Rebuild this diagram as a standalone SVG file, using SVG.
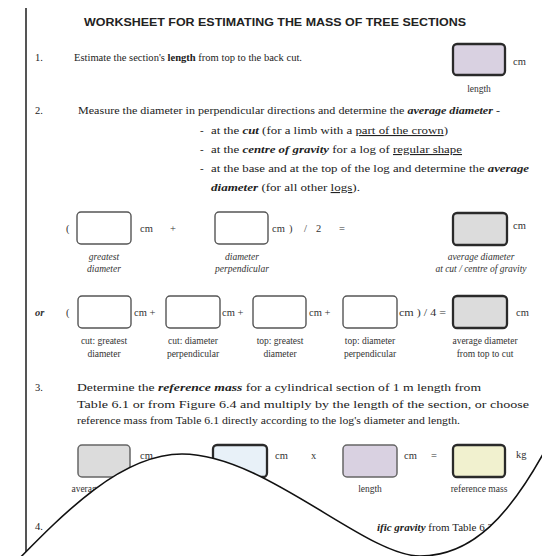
<svg xmlns="http://www.w3.org/2000/svg" width="542" height="556" viewBox="0 0 542 556">
<style>
.t{font-family:"Liberation Serif","Times New Roman",serif;fill:#222;}
.b{font-weight:bold;}
.bi{font-weight:bold;font-style:italic;}
.i{font-style:italic;}
.u{text-decoration:underline;}
.lab{font-family:"Liberation Serif","Times New Roman",serif;fill:#333;font-size:9.5px;text-anchor:middle;}
.op{font-family:"Liberation Serif","Times New Roman",serif;fill:#333;font-size:10.5px;}
.bw{fill:#fff;stroke:#555;stroke-width:1.4;}
.bg{fill:#dcdcdc;stroke:#2a2a2a;stroke-width:2.3;}
.bgm{fill:#dcdcdc;stroke:#666;stroke-width:1.5;}
.bl{fill:#d9d1e1;stroke:#2a2a2a;stroke-width:2.3;}
.blm{fill:#d9d1e1;stroke:#666;stroke-width:1.5;}
.bb{fill:#e8f1f8;stroke:#2a2a2a;stroke-width:2.3;}
.by{fill:#f1f1cf;stroke:#2a2a2a;stroke-width:2.3;}
</style>
<rect width="542" height="556" fill="#fff"/>
<line x1="26" y1="8" x2="26" y2="556" stroke="#555" stroke-width="2"/>

<text x="84" y="26" font-family="Liberation Sans,Arial,sans-serif" font-weight="bold" font-size="11.5" fill="#222" textLength="382" lengthAdjust="spacingAndGlyphs">WORKSHEET FOR ESTIMATING THE MASS OF TREE SECTIONS</text>

<g id="item1">
<text class="t" x="35" y="61" font-size="10.5">1.</text>
<text class="t" x="74" y="61" font-size="10.5" textLength="228" lengthAdjust="spacingAndGlyphs">Estimate the section's <tspan class="b">length</tspan> from top to the back cut.</text>
<rect class="bl" x="453" y="44" width="52" height="31" rx="4"/>
<text class="op" x="513" y="65">cm</text>
<text class="lab" x="479" y="92">length</text>
</g>

<g id="item2">
<text class="t" x="35" y="114" font-size="10.5">2.</text>
<text class="t" x="78" y="114" font-size="11" textLength="422" lengthAdjust="spacingAndGlyphs">Measure the diameter in perpendicular directions and determine the <tspan class="bi">average diameter</tspan> -</text>
<text class="t" x="200" y="134" font-size="11">-</text>
<text class="t" x="211" y="134" font-size="11" textLength="237" lengthAdjust="spacingAndGlyphs">at the <tspan class="bi">cut</tspan> (for a limb with a <tspan class="u">part of the crown</tspan>)</text>
<text class="t" x="200" y="153" font-size="11">-</text>
<text class="t" x="211" y="153" font-size="11" textLength="251" lengthAdjust="spacingAndGlyphs">at the <tspan class="bi">centre of gravity</tspan> for a log of <tspan class="u">regular shape</tspan></text>
<text class="t" x="200" y="172" font-size="11">-</text>
<text class="t" x="211" y="172" font-size="11" textLength="318" lengthAdjust="spacingAndGlyphs">at the base and at the top of the log and determine the <tspan class="bi">average</tspan></text>
<text class="t" x="211" y="191" font-size="11" textLength="149" lengthAdjust="spacingAndGlyphs"><tspan class="bi">diameter</tspan> (for all other <tspan class="u">logs</tspan>).</text>
</g>

<g id="rowA">
<text class="op" x="66" y="232">(</text>
<rect class="bw" x="77" y="212" width="54" height="32" rx="4"/>
<text class="op" x="140" y="232">cm</text>
<text class="op" x="170" y="232">+</text>
<rect class="bw" x="215" y="212" width="53" height="32" rx="4"/>
<text class="op" x="272" y="232">cm</text>
<text class="op" x="289" y="232">)</text>
<text class="op" x="304" y="232">/</text>
<text class="op" x="316" y="232">2</text>
<text class="op" x="339" y="232">=</text>
<rect class="bg" x="453" y="213" width="54" height="32" rx="4"/>
<text class="op" x="513" y="229">cm</text>
<text class="lab i" x="104" y="260">greatest</text>
<text class="lab i" x="104" y="272">diameter</text>
<text class="lab i" x="242" y="260">diameter</text>
<text class="lab i" x="242" y="272">perpendicular</text>
<text class="lab i" x="481" y="260">average diameter</text>
<text class="lab i" x="481" y="272">at cut / centre of gravity</text>
</g>

<g id="rowB">
<text class="op bi" x="35" y="316">or</text>
<text class="op" x="66" y="316">(</text>
<rect class="bw" x="78" y="296" width="53" height="32" rx="4"/>
<text class="op" x="134" y="316">cm +</text>
<rect class="bw" x="166" y="296" width="54" height="32" rx="4"/>
<text class="op" x="222" y="316">cm +</text>
<rect class="bw" x="253" y="296" width="53" height="32" rx="4"/>
<text class="op" x="309" y="316">cm +</text>
<rect class="bw" x="343" y="296" width="54" height="32" rx="4"/>
<text class="op" x="399" y="316" textLength="47" lengthAdjust="spacingAndGlyphs">cm ) / 4 =</text>
<rect class="bg" x="453" y="296" width="54" height="32" rx="4"/>
<text class="op" x="516" y="316">cm</text>
<text class="lab" x="104" y="344">cut: greatest</text>
<text class="lab" x="104" y="357">diameter</text>
<text class="lab" x="193" y="344">cut: diameter</text>
<text class="lab" x="193" y="357">perpendicular</text>
<text class="lab" x="280" y="344">top: greatest</text>
<text class="lab" x="280" y="357">diameter</text>
<text class="lab" x="370" y="344">top: diameter</text>
<text class="lab" x="370" y="357">perpendicular</text>
<text class="lab" x="485" y="344">average diameter</text>
<text class="lab" x="485" y="357">from top to cut</text>
</g>

<g id="item3">
<text class="t" x="35" y="391" font-size="10.5">3.</text>
<text class="t" x="77" y="391" font-size="11" textLength="404" lengthAdjust="spacingAndGlyphs">Determine the <tspan class="bi">reference mass</tspan> for a cylindrical section of 1 m length from</text>
<text class="t" x="77" y="408" font-size="11" textLength="452" lengthAdjust="spacingAndGlyphs">Table 6.1 or from Figure 6.4 and multiply by the length of the section, or choose</text>
<text class="t" x="77" y="424" font-size="11" textLength="383" lengthAdjust="spacingAndGlyphs">reference mass from Table 6.1 directly according to the log's diameter and length.</text>
</g>

<g id="rowC">
<rect class="bgm" x="78" y="445" width="52" height="32" rx="4"/>
<text class="op" x="140" y="459">cm</text>
<rect class="bb" x="213" y="445" width="54" height="32" rx="4"/>
<text class="op" x="275" y="459">cm</text>
<text class="op" x="311" y="459">x</text>
<rect class="blm" x="343" y="445" width="54" height="32" rx="4"/>
<text class="op" x="404" y="459">cm</text>
<text class="op" x="431" y="459">=</text>
<rect class="by" x="453" y="445" width="52" height="32" rx="4"/>
<text class="op" x="516" y="458">kg</text>
<text class="lab" x="104" y="492">average diameter</text>
<text class="lab" x="281" y="492" style="text-anchor:end">log</text>
<text class="lab" x="370" y="492">length</text>
<text class="lab" x="479" y="492">reference mass</text>
</g>

<g id="item4">
<text class="t" x="35" y="530" font-size="10.5">4.</text>
<text class="t" x="493" y="531" font-size="11" text-anchor="end"><tspan class="bi">ific gravity</tspan> from Table 6.2</text>
</g>

<g id="wave">
<path d="M -5,575 L 10,568 C 62,515 120,454 182,454 C 265,454 365,556 420,556 C 472,556 510,516 548,445 L 550,575 Z" fill="#fff"/>
<path d="M 10,568 C 62,515 120,454 182,454 C 265,454 365,556 420,556 C 472,556 510,516 548,445" fill="none" stroke="#111" stroke-width="1.6"/>
</g>
</svg>
